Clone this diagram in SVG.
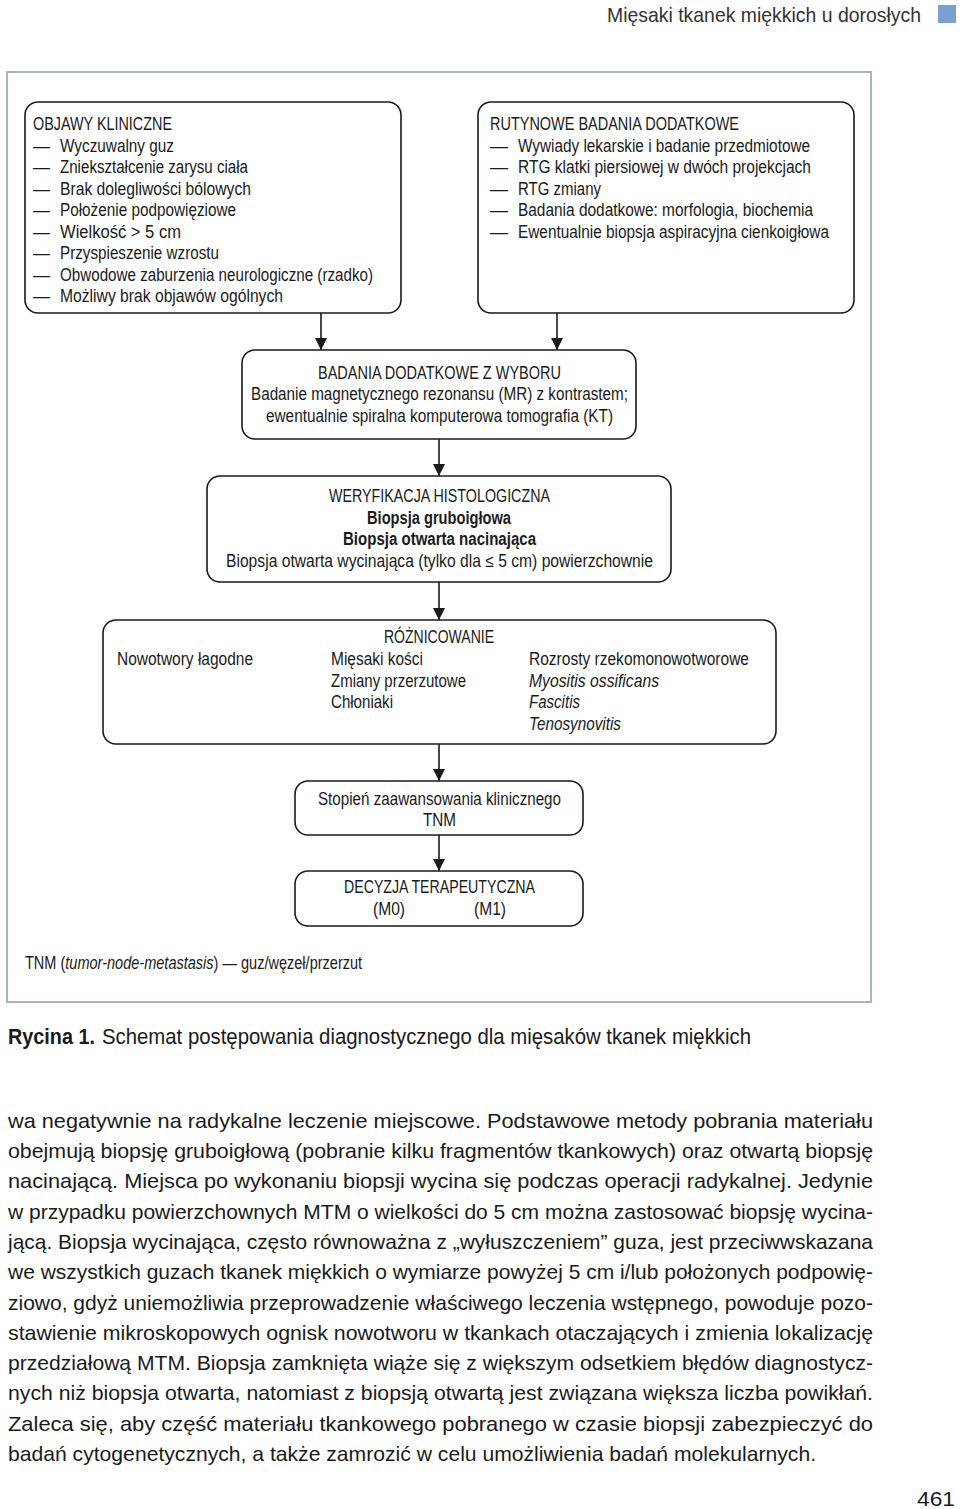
<svg xmlns="http://www.w3.org/2000/svg" width="960" height="1509" viewBox="0 0 960 1509">
<defs>
<marker id="ah" viewBox="0 0 12 12" refX="12" refY="6" markerWidth="12" markerHeight="12" markerUnits="userSpaceOnUse" orient="auto">
<path d="M0,0 L12,6 L0,12 Z" fill="#1a1a1a"/>
</marker>
<style>
.box{fill:#fff;stroke:#1a1a1a;stroke-width:1.6}
.d{font-family:"Liberation Sans Narrow","Liberation Sans",sans-serif;font-size:17.5px;fill:#1a1a1a}
.b{font-weight:bold}
.i{font-style:italic}
.conn{stroke:#1a1a1a;stroke-width:1.6;fill:none;marker-end:url(#ah)}
.body{font-family:"Liberation Sans",sans-serif;font-size:21px;fill:#1a1a1a}
</style>
</defs>
<rect width="960" height="1509" fill="#fff"/>

<g id="header">
<text x="607" y="22" class="body" style="fill:#333" textLength="314" lengthAdjust="spacingAndGlyphs">Mięsaki tkanek miękkich u dorosłych</text>
<rect x="938" y="5" width="18" height="18" fill="#7b9fcf"/>
</g>

<rect id="frame" x="7" y="72" width="864" height="930" fill="none" stroke="#aab4c0" stroke-width="2"/>

<g id="connectors">
<line class="conn" x1="321" y1="313" x2="321" y2="350"/>
<line class="conn" x1="557" y1="313" x2="557" y2="350"/>
<line class="conn" x1="439" y1="439" x2="439" y2="476"/>
<line class="conn" x1="439" y1="582" x2="439" y2="620"/>
<line class="conn" x1="439" y1="744" x2="439" y2="781"/>
<line class="conn" x1="439" y1="835" x2="439" y2="871"/>
</g>

<g id="objawy">
<rect class="box" x="25" y="102" width="376" height="211" rx="13"/>
<text class="d" x="33" y="130" textLength="139" lengthAdjust="spacingAndGlyphs">OBJAWY KLINICZNE</text>
<g class="d">
<text x="33" y="151.5" textLength="17" lengthAdjust="spacingAndGlyphs">—</text>
<text x="33" y="173" textLength="17" lengthAdjust="spacingAndGlyphs">—</text>
<text x="33" y="194.5" textLength="17" lengthAdjust="spacingAndGlyphs">—</text>
<text x="33" y="216" textLength="17" lengthAdjust="spacingAndGlyphs">—</text>
<text x="33" y="237.5" textLength="17" lengthAdjust="spacingAndGlyphs">—</text>
<text x="33" y="259" textLength="17" lengthAdjust="spacingAndGlyphs">—</text>
<text x="33" y="280.5" textLength="17" lengthAdjust="spacingAndGlyphs">—</text>
<text x="33" y="302" textLength="17" lengthAdjust="spacingAndGlyphs">—</text>
<text x="60" y="151.5" textLength="114" lengthAdjust="spacingAndGlyphs">Wyczuwalny guz</text>
<text x="60" y="173" textLength="188" lengthAdjust="spacingAndGlyphs">Zniekształcenie zarysu ciała</text>
<text x="60" y="194.5" textLength="191" lengthAdjust="spacingAndGlyphs">Brak dolegliwości bólowych</text>
<text x="60" y="216" textLength="176" lengthAdjust="spacingAndGlyphs">Położenie podpowięziowe</text>
<text x="60" y="237.5" textLength="121" lengthAdjust="spacingAndGlyphs">Wielkość &gt; 5 cm</text>
<text x="60" y="259" textLength="159" lengthAdjust="spacingAndGlyphs">Przyspieszenie wzrostu</text>
<text x="60" y="280.5" textLength="313" lengthAdjust="spacingAndGlyphs">Obwodowe zaburzenia neurologiczne (rzadko)</text>
<text x="60" y="302" textLength="223" lengthAdjust="spacingAndGlyphs">Możliwy brak objawów ogólnych</text>
</g>
</g>

<g id="rutynowe">
<rect class="box" x="478" y="102" width="376" height="211" rx="13"/>
<text class="d" x="490" y="130" textLength="249" lengthAdjust="spacingAndGlyphs">RUTYNOWE BADANIA DODATKOWE</text>
<g class="d">
<text x="490" y="151.5" textLength="18" lengthAdjust="spacingAndGlyphs">—</text>
<text x="490" y="173" textLength="18" lengthAdjust="spacingAndGlyphs">—</text>
<text x="490" y="194.5" textLength="18" lengthAdjust="spacingAndGlyphs">—</text>
<text x="490" y="216" textLength="18" lengthAdjust="spacingAndGlyphs">—</text>
<text x="490" y="237.5" textLength="18" lengthAdjust="spacingAndGlyphs">—</text>
<text x="518" y="151.5" textLength="292" lengthAdjust="spacingAndGlyphs">Wywiady lekarskie i badanie przedmiotowe</text>
<text x="518" y="173" textLength="293" lengthAdjust="spacingAndGlyphs">RTG klatki piersiowej w dwóch projekcjach</text>
<text x="518" y="194.5" textLength="83" lengthAdjust="spacingAndGlyphs">RTG zmiany</text>
<text x="518" y="216" textLength="295" lengthAdjust="spacingAndGlyphs">Badania dodatkowe: morfologia, biochemia</text>
<text x="518" y="237.5" textLength="311" lengthAdjust="spacingAndGlyphs">Ewentualnie biopsja aspiracyjna cienkoigłowa</text>
</g>
</g>

<g id="wybor">
<rect class="box" x="242" y="350" width="394" height="89" rx="13"/>
<text class="d" x="318" y="378.5" textLength="243" lengthAdjust="spacingAndGlyphs">BADANIA DODATKOWE Z WYBORU</text>
<text class="d" x="251" y="400" textLength="377" lengthAdjust="spacingAndGlyphs">Badanie magnetycznego rezonansu (MR) z kontrastem;</text>
<text class="d" x="266" y="421.5" textLength="347" lengthAdjust="spacingAndGlyphs">ewentualnie spiralna komputerowa tomografia (KT)</text>
</g>

<g id="weryfikacja">
<rect class="box" x="207" y="476" width="464" height="106" rx="13"/>
<text class="d" x="329" y="502" textLength="221" lengthAdjust="spacingAndGlyphs">WERYFIKACJA HISTOLOGICZNA</text>
<text class="d b" x="367" y="523.5" textLength="144" lengthAdjust="spacingAndGlyphs">Biopsja gruboigłowa</text>
<text class="d b" x="343" y="545" textLength="193" lengthAdjust="spacingAndGlyphs">Biopsja otwarta nacinająca</text>
<text class="d" x="226" y="566.5" textLength="427" lengthAdjust="spacingAndGlyphs">Biopsja otwarta wycinająca (tylko dla ≤ 5 cm) powierzchownie</text>
</g>

<g id="roznicowanie">
<rect class="box" x="103" y="620" width="673" height="124" rx="13"/>
<text class="d" x="384" y="642.5" textLength="110" lengthAdjust="spacingAndGlyphs">RÓŻNICOWANIE</text>
<text class="d" x="117" y="665" textLength="136" lengthAdjust="spacingAndGlyphs">Nowotwory łagodne</text>
<text class="d" x="331" y="665" textLength="92" lengthAdjust="spacingAndGlyphs">Mięsaki kości</text>
<text class="d" x="331" y="686.5" textLength="135" lengthAdjust="spacingAndGlyphs">Zmiany przerzutowe</text>
<text class="d" x="331" y="708" textLength="62" lengthAdjust="spacingAndGlyphs">Chłoniaki</text>
<text class="d" x="529" y="665" textLength="220" lengthAdjust="spacingAndGlyphs">Rozrosty rzekomonowotworowe</text>
<text class="d i" x="529" y="686.5" textLength="130" lengthAdjust="spacingAndGlyphs">Myositis ossificans</text>
<text class="d i" x="529" y="708" textLength="51" lengthAdjust="spacingAndGlyphs">Fascitis</text>
<text class="d i" x="529" y="729.5" textLength="92" lengthAdjust="spacingAndGlyphs">Tenosynovitis</text>
</g>

<g id="stopien">
<rect class="box" x="295" y="781" width="288" height="54" rx="13"/>
<text class="d" x="318" y="804.5" textLength="243" lengthAdjust="spacingAndGlyphs">Stopień zaawansowania klinicznego</text>
<text class="d" x="423" y="826" textLength="33" lengthAdjust="spacingAndGlyphs">TNM</text>
</g>

<g id="decyzja">
<rect class="box" x="295" y="871" width="288" height="55" rx="13"/>
<text class="d" x="344" y="893" textLength="191" lengthAdjust="spacingAndGlyphs">DECYZJA TERAPEUTYCZNA</text>
<text class="d" x="373" y="914.5" textLength="32" lengthAdjust="spacingAndGlyphs">(M0)</text>
<text class="d" x="474" y="914.5" textLength="32" lengthAdjust="spacingAndGlyphs">(M1)</text>
</g>

<g id="footnote" transform="translate(25,968.5) scale(0.83,1)">
<text x="0" y="0" font-family="'Liberation Sans',sans-serif" font-size="17.5" fill="#1a1a1a">TNM (<tspan font-style="italic">tumor-node-metastasis</tspan>) — guz/węzeł/przerzut</text>
</g>

<g id="caption" font-family="'Liberation Sans Narrow','Liberation Sans',sans-serif" font-size="22" fill="#1a1a1a">
<text x="8" y="1043.5" font-weight="bold" textLength="87" lengthAdjust="spacingAndGlyphs">Rycina 1.</text>
<text x="102" y="1043.5" textLength="649" lengthAdjust="spacingAndGlyphs">Schemat postępowania diagnostycznego dla mięsaków tkanek miękkich</text>
</g>

<g id="bodytext" class="body">
<text x="8" y="1127.5" textLength="865" lengthAdjust="spacingAndGlyphs">wa negatywnie na radykalne leczenie miejscowe. Podstawowe metody pobrania materiału</text>
<text x="8" y="1157.5" textLength="865" lengthAdjust="spacingAndGlyphs">obejmują biopsję gruboigłową (pobranie kilku fragmentów tkankowych) oraz otwartą biopsję</text>
<text x="8" y="1188" textLength="865" lengthAdjust="spacingAndGlyphs">nacinającą. Miejsca po wykonaniu biopsji wycina się podczas operacji radykalnej. Jedynie</text>
<text x="8" y="1218.5" textLength="865" lengthAdjust="spacingAndGlyphs">w przypadku powierzchownych MTM o wielkości do 5 cm można zastosować biopsję wycina-</text>
<text x="8" y="1248.5" textLength="865" lengthAdjust="spacingAndGlyphs">jącą. Biopsja wycinająca, często równoważna z „wyłuszczeniem” guza, jest przeciwwskazana</text>
<text x="8" y="1279" textLength="865" lengthAdjust="spacingAndGlyphs">we wszystkich guzach tkanek miękkich o wymiarze powyżej 5 cm i/lub położonych podpowię-</text>
<text x="8" y="1309.5" textLength="865" lengthAdjust="spacingAndGlyphs">ziowo, gdyż uniemożliwia przeprowadzenie właściwego leczenia wstępnego, powoduje pozo-</text>
<text x="8" y="1339.5" textLength="865" lengthAdjust="spacingAndGlyphs">stawienie mikroskopowych ognisk nowotworu w tkankach otaczających i zmienia lokalizację</text>
<text x="8" y="1370" textLength="865" lengthAdjust="spacingAndGlyphs">przedziałową MTM. Biopsja zamknięta wiąże się z większym odsetkiem błędów diagnostycz-</text>
<text x="8" y="1400" textLength="865" lengthAdjust="spacingAndGlyphs">nych niż biopsja otwarta, natomiast z biopsją otwartą jest związana większa liczba powikłań.</text>
<text x="8" y="1430.5" textLength="865" lengthAdjust="spacingAndGlyphs">Zaleca się, aby część materiału tkankowego pobranego w czasie biopsji zabezpieczyć do</text>
<text x="8" y="1460.5" textLength="808" lengthAdjust="spacingAndGlyphs">badań cytogenetycznych, a także zamrozić w celu umożliwienia badań molekularnych.</text>
</g>

<text id="pagenum" x="917" y="1506" class="body" textLength="38" lengthAdjust="spacingAndGlyphs">461</text>
</svg>
